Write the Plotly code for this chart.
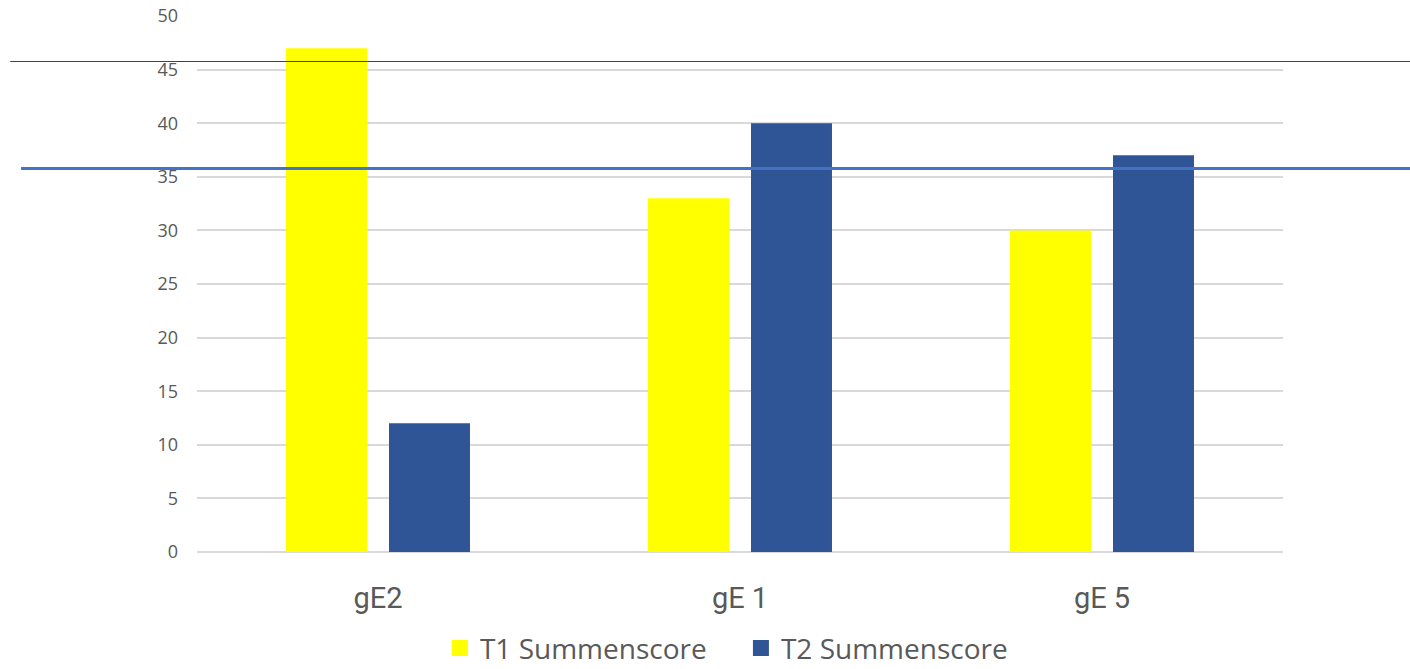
import plotly.graph_objects as go

# Categories and scores
categories = ["gE2", "gE 1", "gE 5"]
t1_scores = [47, 33, 30]
t2_scores = [12, 40, 37]
series_names = ["T1 Summenscore", "T2 Summenscore"]
series_colors = ["#FFFF00", "#2F5597"]

# Reference lines (score values)
red_line_value = 45.755
blue_line_value = 35.78

fig = go.Figure()
for name, vals, col in zip(series_names, [t1_scores, t2_scores], series_colors):
    fig.add_trace(go.Bar(x=categories, y=vals, name=name, marker_color=col,
                         marker_line_width=0, showlegend=False))
    # larger square legend entry
    fig.add_trace(go.Scatter(x=[None], y=[None], mode="markers", name=name,
                             marker=dict(symbol="square", size=19, color=col)))

fig.add_shape(type="line", xref="paper", yref="y", x0=-0.172, x1=1.2,
              y0=red_line_value, y1=red_line_value,
              line=dict(color="#E00000", width=1), layer="above")
fig.add_shape(type="line", xref="paper", yref="y", x0=-0.162, x1=1.2,
              y0=blue_line_value, y1=blue_line_value,
              line=dict(color="#4472C4", width=3), layer="above")

fig.update_layout(
    width=1410, height=669,
    margin=dict(l=197, r=127, t=16, b=117, autoexpand=False),
    paper_bgcolor="white", plot_bgcolor="white",
    barmode="group", bargap=0.431, bargroupgap=0.2136,
    font=dict(family="Open Sans", color="#595959"),
    legend=dict(orientation="h", xref="container", x=0.312, xanchor="left",
                yref="container", y=0.031, yanchor="middle",
                font=dict(size=28, family="Open Sans", color="#595959"),
                itemwidth=30, tracegroupgap=0,
                entrywidth=256, entrywidthmode="pixels"),
    xaxis=dict(showgrid=False, showline=False, ticks="", automargin=False,
               tickfont=dict(size=29, family="Roboto", color="#595959"),
               ticklabelstandoff=26),
    yaxis=dict(range=[0, 50], dtick=5, showgrid=True, gridcolor="#D9D9D9",
               gridwidth=1.5, zeroline=True, zerolinecolor="#D9D9D9",
               zerolinewidth=1.5, showline=False, ticks="", automargin=False,
               tickfont=dict(size=18, family="Open Sans", color="#595959"),
               ticklabelstandoff=18),
)

fig.write_html("out.html")
